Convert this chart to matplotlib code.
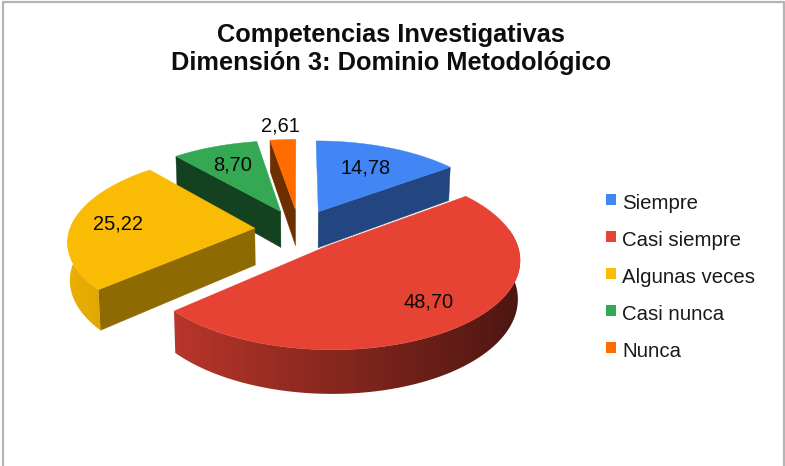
import numpy as np
import matplotlib
matplotlib.use("Agg")
import matplotlib.pyplot as plt
from matplotlib.patches import Polygon, Rectangle

plt.rcParams['font.family'] = ['Liberation Sans', 'DejaVu Sans']

categories = ["Siempre", "Casi siempre", "Algunas veces", "Casi nunca", "Nunca"]
values = [14.78, 48.70, 25.22, 8.70, 2.61]
title = "Competencias Investigativas\nDimensión 3: Dominio Metodológico"

colors = ["#4285F4", "#E74335", "#FABB04", "#34A853", "#FF6D00"]
wall_shade = [0.53, 0.55, 0.57, 0.39, 0.43]  # how dark the flat cut faces are
label_r = [0.65, 0.75, 0.75, 0.70, 1.23]     # label distance from the slice tip

# fake 3d: disc of radius 1, projected to pixels with some perspective
CX, CY = 299, 229.5
A, B = 185, 85
D = 7.34
EXPLODE = 0.24
H = 37


def project(x, y, low=False):
    s = D / (D + y)
    px = A * x * s
    py = -B * y * s
    if low:  # bottom of the slice, verticals converge a bit
        return CX + px * 0.99, CY + py + H * s
    return CX + px, CY + py


def shade(color, f):
    return tuple(np.array(matplotlib.colors.to_rgb(color)) * f)


fig = plt.figure(figsize=(7.85, 4.66), dpi=100)
ax = fig.add_axes([0, 0, 1, 1])
ax.set_xlim(0, 785)
ax.set_ylim(466, 0)
ax.axis("off")

# chart frame
ax.plot([3, 3, 784, 784], [466, 1.5, 1.5, 466], color="#b4b4b4", lw=1.6)

fracs = np.array(values) / sum(values) * 2 * np.pi
ends = np.cumsum(fracs)
starts = ends - fracs

slices = []
for i in range(len(values)):
    mid = (starts[i] + ends[i]) / 2
    ox, oy = EXPLODE * np.sin(mid), EXPLODE * np.cos(mid)
    slices.append((i, starts[i], ends[i], mid, ox, oy))

# back to front: orange, green, blue, yellow, red
z = 1
for i in [4, 3, 0, 2, 1]:
    _, t0, t1, mid, ox, oy = slices[i]
    t = np.linspace(t0, t1, max(int((t1 - t0) * 60), 8))
    xs = ox + np.sin(t)
    ys = oy + np.cos(t)

    # straight cut faces, only those that face us
    wall = shade(colors[i], wall_shade[i])
    for te, facing in ((t0, np.sin(t0) < -1e-6), (t1, np.sin(t1) > 1e-6)):
        if not facing:
            continue
        ex, ey = ox + np.sin(te), oy + np.cos(te)
        quad = [project(ox, oy), project(ex, ey), project(ex, ey, True), project(ox, oy, True)]
        ax.add_patch(Polygon(quad, closed=True, fc=wall, ec=wall, lw=0.3, zorder=z))

    # curved outer wall, the part that faces us, shaded left to right
    front = np.cos(t) < 0.2
    if front.sum() > 1:
        upper = [project(a, b) for a, b in zip(xs[front], ys[front])]
        lower = [project(a, b, True) for a, b in zip(xs[front], ys[front])]
        outline = Polygon(upper + lower[::-1], closed=True, fc="none", ec="none", zorder=z)
        ax.add_patch(outline)
        gx = np.linspace(0, 785, 400)
        f = np.clip(0.93 - (gx - 75) * 0.00134, 0.3, 1)
        rgb = np.array(matplotlib.colors.to_rgb(colors[i]))
        grad = rgb[None, None, :] * f[None, :, None]
        im = ax.imshow(grad, extent=(0, 785, 466, 0), aspect="auto", zorder=z)
        im.set_clip_path(outline)
        ax.set_xlim(0, 785)
        ax.set_ylim(466, 0)

    # top face
    top = [project(ox, oy)] + [project(a, b) for a, b in zip(xs, ys)]
    ax.add_patch(Polygon(top, closed=True, fc=colors[i], ec=colors[i], lw=0.3, zorder=z + 0.5))
    z += 1

# value labels
for i, s in enumerate(slices):
    _, t0, t1, mid, ox, oy = s
    lx, ly = project(ox + label_r[i] * np.sin(mid), oy + label_r[i] * np.cos(mid))
    ax.text(lx, ly, f"{values[i]:.2f}".replace(".", ","), ha="center", va="center",
            fontsize=14.4, color="#0a0a0a", zorder=10)

# title
ax.text(391, 49, title, ha="center", va="center", fontsize=18.3, fontweight="bold",
        color="#0d0d0d", linespacing=1.22)

# legend
for i, name in enumerate(categories):
    y = 199.5 + i * 37
    ax.add_patch(Rectangle((606, y - 5.5), 10, 11, fc=colors[i], ec="none"))
    ax.text(622.5, y + 4, name, ha="left", va="center", fontsize=14.7, color="#1a1a1a")

fig.savefig("out.png", dpi=100, facecolor="white")
